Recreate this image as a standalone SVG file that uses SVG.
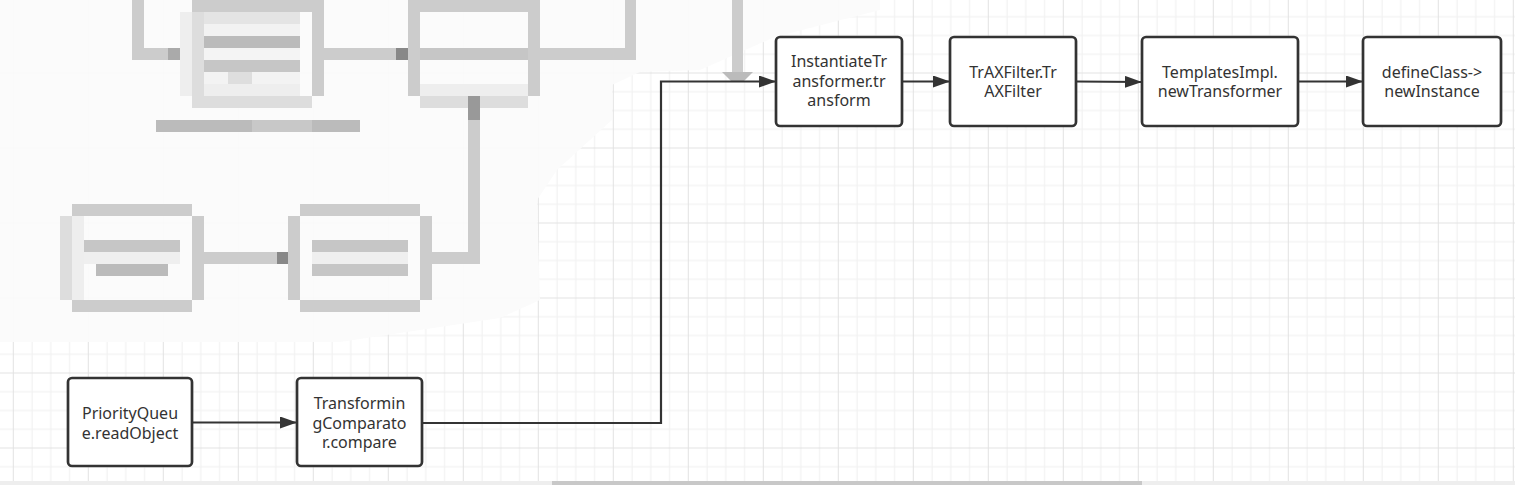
<svg xmlns="http://www.w3.org/2000/svg" width="1515" height="485" viewBox="0 0 1515 485">
<defs>
<style>
.node rect{fill:#ffffff;stroke:#333333;stroke-width:2.7}
.node text{font-family:"Noto Sans","Liberation Sans",sans-serif;font-size:16px;fill:#333333;text-anchor:middle}
.conn{fill:none;stroke:#333333;stroke-width:2.2}
.m1{fill:#cccccc}.m2{fill:#dddddd}.m3{fill:#eeeeee}.m4{fill:#bbbbbb}.m5{fill:#999999}.m6{fill:#888888}.m7{fill:#c6c6c6}
</style>
<pattern id="grid" x="12.8" y="-2.5" width="75" height="75" patternUnits="userSpaceOnUse">
<rect x="18.75" y="0" width="1" height="75" fill="#f0f0f0"/>
<rect x="37.5" y="0" width="1" height="75" fill="#f0f0f0"/>
<rect x="56.25" y="0" width="1" height="75" fill="#f0f0f0"/>
<rect x="0" y="18.75" width="75" height="1" fill="#f0f0f0"/>
<rect x="0" y="37.5" width="75" height="1" fill="#f0f0f0"/>
<rect x="0" y="56.25" width="75" height="1" fill="#f0f0f0"/>
<rect x="0" y="0" width="1" height="75" fill="#e2e2e2"/>
<rect x="0" y="0" width="75" height="1" fill="#e2e2e2"/>
</pattern>
<marker id="arr" markerWidth="17" markerHeight="12" refX="17" refY="6" orient="auto" markerUnits="userSpaceOnUse">
<path d="M0,0 L17,6 L0,12 Z" fill="#333333"/>
</marker>
</defs>
<rect x="0" y="0" width="1515" height="485" fill="#ffffff"/>
<rect x="0" y="0" width="1515" height="485" fill="url(#grid)"/>

<g id="blurred-area">
<polygon points="0,0 880,0 880,10 775,37 700,70 640,72 612,85 612,120 557,170 537,200 540,300 500,318 340,342 0,342" fill="#fbfbfb" opacity="0.93"/>
<rect class="m1" x="132" y="0" width="12" height="50"/>
<rect class="m1" x="132" y="48" width="36" height="12"/>
<rect x="168" y="48" width="24" height="12" fill="#aaaaaa"/>
<rect class="m3" x="180" y="12" width="12" height="84"/>
<rect class="m2" x="192" y="0" width="12" height="108"/>
<rect class="m1" x="192" y="0" width="120" height="12"/>
<rect class="m1" x="312" y="0" width="12" height="96"/>
<rect class="m2" x="204" y="96" width="108" height="12"/>
<rect x="204" y="12" width="96" height="12" fill="#e4e4e4"/>
<rect x="204" y="24" width="96" height="12" fill="#f2f2f2"/>
<rect class="m4" x="204" y="36" width="96" height="12"/>
<rect x="204" y="48" width="96" height="12" fill="#f4f4f4"/>
<rect class="m7" x="204" y="60" width="96" height="12"/>
<rect x="204" y="72" width="96" height="12" fill="#f3f3f3"/>
<rect x="228" y="72" width="24" height="12" fill="#dedede"/>
<rect class="m3" x="204" y="84" width="96" height="12"/>
<rect class="m1" x="324" y="48" width="72" height="12"/>
<rect class="m6" x="396" y="48" width="12" height="12"/>
<rect class="m1" x="408" y="0" width="12" height="96"/>
<rect class="m1" x="420" y="0" width="108" height="12"/>
<rect class="m1" x="528" y="0" width="12" height="96"/>
<rect class="m3" x="420" y="84" width="108" height="12"/>
<rect class="m2" x="420" y="96" width="108" height="12"/>
<rect class="m7" x="420" y="48" width="108" height="12"/>
<rect class="m1" x="540" y="48" width="96" height="12"/>
<rect class="m1" x="625" y="0" width="11" height="50"/>
<rect class="m5" x="468" y="96" width="12" height="24"/>
<rect class="m1" x="468" y="120" width="12" height="142"/>
<rect class="m4" x="156" y="120" width="204" height="12"/>
<rect x="252" y="120" width="60" height="12" fill="#c8c8c8"/>
<rect class="m2" x="60" y="216" width="12" height="84"/>
<rect class="m3" x="72" y="216" width="12" height="84"/>
<rect class="m1" x="72" y="204" width="120" height="12"/>
<rect class="m1" x="192" y="216" width="12" height="84"/>
<rect class="m1" x="72" y="300" width="120" height="12"/>
<rect class="m7" x="84" y="240" width="96" height="12"/>
<rect x="84" y="252" width="96" height="12" fill="#efefef"/>
<rect class="m4" x="96" y="264" width="72" height="12"/>
<rect class="m1" x="204" y="252" width="73" height="12"/>
<rect class="m6" x="277" y="252" width="11" height="12"/>
<rect class="m1" x="288" y="216" width="12" height="84"/>
<rect class="m1" x="300" y="204" width="120" height="12"/>
<rect class="m1" x="420" y="216" width="12" height="84"/>
<rect class="m1" x="300" y="300" width="120" height="12"/>
<rect class="m7" x="312" y="240" width="96" height="12"/>
<rect x="312" y="252" width="96" height="12" fill="#efefef"/>
<rect class="m7" x="312" y="264" width="96" height="12"/>
<rect class="m1" x="432" y="252" width="48" height="12"/>
<rect class="m1" x="732" y="0" width="11" height="72"/>
<polygon points="722,72 753,72 743,82 732,82" fill="#bbbbbb"/>
</g>

<g id="connectors">
<line class="conn" x1="192" y1="422.5" x2="297" y2="422.5" marker-end="url(#arr)"/>
<polyline class="conn" points="422,423 661,423 661,81.5 776,81.5" marker-end="url(#arr)"/>
<line class="conn" x1="902" y1="81.5" x2="950" y2="81.5" marker-end="url(#arr)"/>
<line class="conn" x1="1076" y1="81.5" x2="1142" y2="82" marker-end="url(#arr)"/>
<line class="conn" x1="1298" y1="81.5" x2="1363" y2="81.5" marker-end="url(#arr)"/>
</g>

<g id="node-priorityqueue" class="node">
<rect x="68" y="378" width="124" height="88" rx="4"/>
<text x="130" y="419">PriorityQueu</text>
<text x="130" y="439">e.readObject</text>
</g>
<g id="node-transformingcomparator" class="node">
<rect x="297" y="378" width="125" height="88" rx="4"/>
<text x="359.5" y="409">Transformin</text>
<text x="359.5" y="428.5">gComparato</text>
<text x="359.5" y="448">r.compare</text>
</g>
<g id="node-instantiatetransformer" class="node">
<rect x="776" y="37" width="126" height="89" rx="4"/>
<text x="839" y="67">InstantiateTr</text>
<text x="839" y="86.5">ansformer.tr</text>
<text x="839" y="106">ansform</text>
</g>
<g id="node-traxfilter" class="node">
<rect x="950" y="37" width="126" height="89" rx="4"/>
<text x="1013" y="77.5">TrAXFilter.Tr</text>
<text x="1013" y="97">AXFilter</text>
</g>
<g id="node-templatesimpl" class="node">
<rect x="1142" y="37" width="156" height="89" rx="4"/>
<text x="1220" y="77.5">TemplatesImpl.</text>
<text x="1220" y="97">newTransformer</text>
</g>
<g id="node-defineclass" class="node">
<rect x="1363" y="37" width="138" height="89" rx="4"/>
<text x="1432" y="77.5">defineClass-&gt;</text>
<text x="1432" y="97">newInstance</text>
</g>

<g id="scrollbar">
<rect x="0" y="481" width="1515" height="4" fill="#eeeeee"/>
<rect x="552" y="481" width="590" height="4" fill="#c8c8c8"/>
</g>
</svg>
